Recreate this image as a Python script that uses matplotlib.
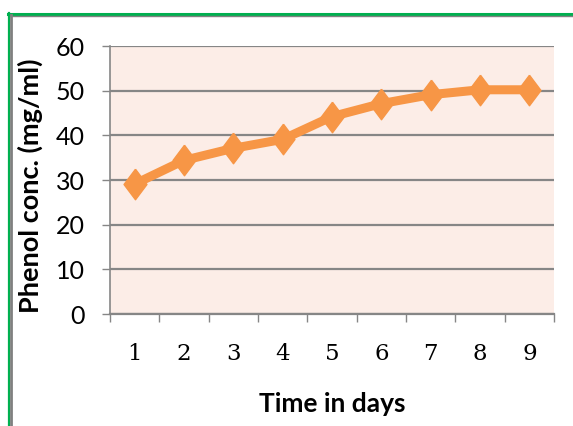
import numpy as np
import matplotlib.pyplot as plt
from matplotlib.lines import Line2D

# --- data ---
days = [1, 2, 3, 4, 5, 6, 7, 8, 9]
phenol = [29.1, 34.4, 37.1, 39.1, 44.2, 47.1, 49.1, 50.2, 50.2]
yticks = [0, 10, 20, 30, 40, 50, 60]

W, H = 573, 426
fig = plt.figure(figsize=(W / 100, H / 100), dpi=100)
ax = fig.add_axes([110 / W, 1 - 314 / H, 444 / W, 268 / H])

grid_col = '#868686'
ax.set_facecolor('#fcede7')

# tall diamond like the Excel marker
diamond = [(0, 1), (0.75, 0), (0, -1), (-0.75, 0), (0, 1)]
ax.plot(days, phenol, '-', color='#f79646', lw=6.5, marker=diamond, ms=22,
        mec='#f79646', mfc='#f79646', zorder=5, solid_capstyle='round')

ax.set_xlim(0.5, 9.5)
ax.set_ylim(0, 60)
ax.set_yticks(yticks)
ax.yaxis.grid(True, color=grid_col, lw=1.6)
ax.set_axisbelow(True)

ax.set_xticks(days)
ax.set_xticks(np.arange(0.5, 10, 1), minor=True)
ax.tick_params(axis='x', which='major', length=0, pad=21,
               labelsize=16.5, labelfontfamily='DejaVu Serif')
ax.tick_params(axis='x', which='minor', length=6, width=1, color=grid_col, direction='out')
ax.tick_params(axis='y', length=6, width=1, color=grid_col, pad=12,
               labelsize=18, labelfontfamily='Lato')

for s in ['top', 'right']:
    ax.spines[s].set_visible(False)
ax.spines['left'].set_color(grid_col)
ax.spines['bottom'].set_color(grid_col)
ax.spines['left'].set_linewidth(1.2)
ax.spines['bottom'].set_linewidth(1.6)

ax.set_xlabel('Time in days', fontsize=19, fontweight='bold', family='Lato')
ax.xaxis.set_label_coords(0.5, (314 - 392) / 268)
ax.set_ylabel('Phenol conc. (mg/ml)', fontsize=19.5, fontweight='bold', family='Lato')
ax.yaxis.set_label_coords((43 - 110) / 444, 0.48)

# outer frame (green with gray inner edge)
fig.add_artist(Line2D([8 / W, 1], [1 - 14 / H] * 2, color='#00b050', lw=2.2, transform=fig.transFigure))
fig.add_artist(Line2D([10 / W, 1], [1 - 16 / H] * 2, color='#808080', lw=1.0, transform=fig.transFigure))
fig.add_artist(Line2D([8.8 / W] * 2, [0, 1 - 13 / H], color='#00b050', lw=1.6, transform=fig.transFigure))
fig.add_artist(Line2D([11 / W] * 2, [0, 1 - 15 / H], color='#808080', lw=2.0, transform=fig.transFigure))

fig.savefig('out.png', dpi=100)
